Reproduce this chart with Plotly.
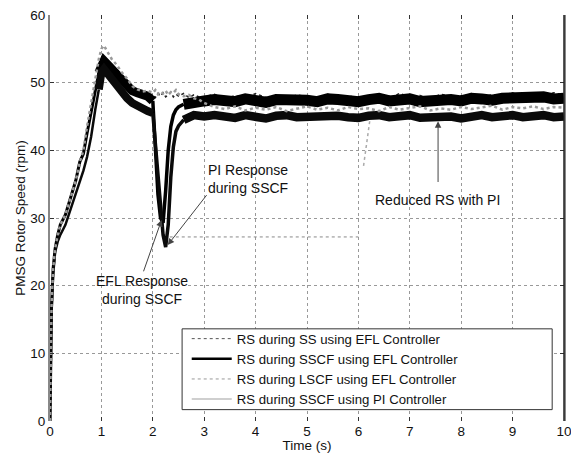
import plotly.graph_objects as go

# Time base (s): dense through start-up and the fault, 0.2 s afterwards
time_s = [0.0, 0.01, 0.03, 0.06, 0.1, 0.15, 0.2, 0.3, 0.4, 0.5, 0.58, 0.65, 0.72, 0.8,
          0.88, 0.95, 1.0, 1.05, 1.1, 1.2, 1.3, 1.4, 1.5, 1.6, 1.7, 1.8, 1.9, 2.0, 2.05,
          2.1, 2.15, 2.2, 2.25, 2.3, 2.35, 2.4, 2.45, 2.5, 2.6, 2.7, 2.8, 2.9,
          3.0, 3.2, 3.4, 3.6, 3.8, 4.0, 4.2, 4.4, 4.6, 4.8, 5.0, 5.2, 5.4, 5.6, 5.8,
          6.0, 6.2, 6.4, 6.6, 6.8, 7.0, 7.2, 7.4, 7.6, 7.8, 8.0, 8.2, 8.4, 8.6, 8.8,
          9.0, 9.2, 9.4, 9.6, 9.8, 10.0]

# Rotor speed (rpm)
rs_ss_efl = [0, 9, 17, 22.5, 25.5, 27.5, 29, 30.5, 33, 35.5, 38.3, 39.8, 43, 46, 49.5,
             52.3, 54, 53.5, 53, 52, 51, 49.8, 49, 48.6, 48.3, 48.2, 48.0, 48.3, 47.8,
             48.4, 48.0, 48.5, 47.9, 48.2, 48.6, 47.9, 48.3, 48.0, 48.4, 47.8, 48.2, 47.9,
             47.9, 48.3, 47.6, 48.1, 47.7, 48.4, 47.8, 48.0, 47.5, 48.2, 47.9, 47.6, 48.3,
             47.8, 48.1, 47.6, 48.0, 48.2, 47.7, 48.4, 47.9, 48.1, 47.6, 48.3, 48.0, 47.8,
             48.4, 47.9, 48.2, 48.0, 48.5, 47.9, 48.3, 48.1, 48.5, 48.2]
rs_sscf_efl = [0, 9, 17, 22.5, 25.5, 27.5, 29, 30.5, 33, 35.5, 38.3, 39.5, 42.5, 45.5, 49,
               51.5, 53, 53.2, 52.8, 52.0, 51.2, 50.5, 49.6, 48.8, 48.5, 48.3, 48.0, 47.3,
               40, 33.5, 30, 29.3, 34, 40, 43.5, 45.2, 46, 46.4, 46.8, 47.0, 47.3, 47.1,
               47.3, 47.5, 47.2, 47.2, 47.6, 47.4, 47.1, 47.5, 47.6, 47.3, 47.4, 47.2, 47.6,
               47.5, 47.3, 47.2, 47.5, 47.7, 47.3, 47.4, 47.6, 47.2, 47.3, 47.6, 47.5, 47.3,
               47.7, 47.6, 47.4, 47.7, 47.8, 47.5, 47.6, 47.9, 47.6, 47.7]
rs_lscf_efl = [0, 9, 17, 22.5, 25.5, 27.5, 29, 30.5, 33, 35.5, 38.3, 40, 43.5, 47, 50.5,
               53.5, 55, 55.5, 54.8, 53.5, 52.6, 51.5, 50.6, 49.5, 49.0, 48.7, 48.8, 48.5,
               48.9, 48.3, 48.7, 48.4, 48.8, 48.2, 48.6, 48.5, 48.9, 48.3, 48.0, 48.2, 47.7,
               47.5,
               47.0, 46.4, 46.1, 46.5, 45.9, 46.3, 46.0, 46.4, 45.8, 46.2, 46.5, 46.0, 46.3,
               45.9, 46.4, 46.1, 46.2, 45.8, 46.4, 46.0, 46.3, 46.5, 45.9, 46.2, 46.0, 46.4,
               46.1, 46.3, 46.6, 46.0, 46.4, 46.2, 46.5, 46.1, 46.4, 46.3]
rs_sscf_pi = [0, 8, 16, 21.5, 25, 26.5, 27.5, 29, 31.3, 33.5, 35.5, 37, 39, 42, 46, 49,
              51.5, 52, 51.5, 50.5, 49.5, 48.5, 47.7, 47.0, 46.5, 46.0, 45.8, 45.5, 41, 35,
              30.5, 27.5, 25.7, 29, 36, 40.5, 42.8, 43.6, 44.5, 45.0, 45.2, 45.1,
              45.0, 45.2, 44.9, 44.8, 45.2, 45.0, 44.7, 45.1, 45.2, 44.9, 45.0, 44.8, 45.2,
              45.1, 44.9, 44.8, 45.1, 45.2, 44.9, 45.0, 45.2, 44.8, 44.9, 45.1, 45.0, 44.7,
              45.1, 45.2, 44.9, 45.1, 45.2, 44.9, 45.0, 45.2, 44.9, 45.0]

legend_names = ["RS during SS using EFL Controller",
                "RS during SSCF using EFL Controller",
                "RS during LSCF using EFL Controller",
                "RS during SSCF using PI Controller"]

FONT = "Liberation Sans, Arial, Helvetica, sans-serif"

# ripple makes the measured traces look thicker in some intervals
band_widths = {
    "efl": [(0.0, 0.95, 3.0), (0.95, 2.0, 9.0), (2.0, 2.6, 3.5), (2.6, 10.0, 11.0)],
    "pi": [(0.0, 0.95, 2.5), (0.95, 2.0, 8.0), (2.0, 2.6, 3.5), (2.6, 10.0, 8.5)],
}

fig = go.Figure()


def add_band_trace(values, color, segments):
    for lo, hi, w in segments:
        xs = [t for t in time_s if lo <= t <= hi]
        ys = [v for t, v in zip(time_s, values) if lo <= t <= hi]
        fig.add_trace(go.Scatter(x=xs, y=ys, mode="lines", showlegend=False,
                                 line=dict(color=color, width=w), hoverinfo="skip"))


fig.add_trace(go.Scatter(x=time_s, y=rs_ss_efl, mode="lines", showlegend=False,
                         line=dict(color="#222222", width=1.5, dash="dot")))
add_band_trace(rs_sscf_efl, "#000000", band_widths["efl"])
add_band_trace(rs_sscf_pi, "#0a0a0a", band_widths["pi"])
fig.add_trace(go.Scatter(x=time_s, y=rs_lscf_efl, mode="lines", showlegend=False,
                         line=dict(color="#9a9a9a", width=2.5, dash="dot")))

# legend keys
legend_styles = [dict(color="#555555", width=1, dash="dot"),
                 dict(color="#000000", width=2.5),
                 dict(color="#999999", width=1, dash="dot"),
                 dict(color="#cfcfcf", width=2)]
for name, style in zip(legend_names, legend_styles):
    fig.add_trace(go.Scatter(x=[None], y=[None], mode="lines", name=name, line=style))

annot_font = dict(family=FONT, size=14, color="#111111")
fig.add_annotation(x=1.79, y=19.3, text="EFL Response<br>during SSCF", showarrow=False,
                   font=annot_font, xref="x", yref="y")
fig.add_annotation(x=3.85, y=35.7, text="PI Response<br>during SSCF", showarrow=False,
                   font=annot_font, xref="x", yref="y")
fig.add_annotation(x=7.53, y=32.6, text="Reduced RS with PI", showarrow=False,
                   font=annot_font, xref="x", yref="y")

arrows = [((1.81, 21.9), (2.17, 29.7)),
          ((3.07, 33.6), (2.29, 26.0)),
          ((7.55, 35.1), (7.55, 44.3))]
for (tx, ty), (hx, hy) in arrows:
    fig.add_annotation(x=hx, y=hy, ax=tx, ay=ty, xref="x", yref="y", axref="x", ayref="y",
                       text="", showarrow=True, arrowhead=2, arrowsize=1.3, arrowwidth=1,
                       arrowcolor="#444444")

# stray dotted guide lines
fig.add_shape(type="line", x0=2.33, y0=27.2, x1=6.0, y1=27.2, xref="x", yref="y",
              line=dict(color="#888888", width=1, dash="dot"))
fig.add_shape(type="line", x0=6.22, y0=44.3, x1=6.1, y1=37.7, xref="x", yref="y",
              line=dict(color="#aaaaaa", width=1.5, dash="dot"))
# right frame edge
fig.add_shape(type="line", x0=1, y0=0, x1=1, y1=1, xref="paper", yref="paper",
              line=dict(color="#222222", width=1.5))
# legend frame
fig.add_shape(type="rect", x0=0.257, x1=0.977, y0=0.028, y1=0.227, xref="paper",
              yref="paper", layer="above", fillcolor="white",
              line=dict(color="#333333", width=1))

fig.update_layout(
    width=571, height=458,
    margin=dict(l=50, r=7, t=15, b=37),
    paper_bgcolor="white", plot_bgcolor="white",
    font=dict(family=FONT, size=13, color="#111111"),
    showlegend=True,
    legend=dict(x=0.266, y=0.240, xanchor="left", yanchor="top",
                bgcolor="rgba(0,0,0,0)", borderwidth=0,
                font=dict(family=FONT, size=13.2, color="#111111"),
                tracegroupgap=0, itemwidth=40),
)
fig.update_xaxes(range=[0, 10], tickvals=list(range(0, 11)), ticks="inside", ticklen=4,
                 tickcolor="#333333", mirror="ticks", showline=False, zeroline=False,
                 showgrid=True, gridcolor="#999999", griddash="dot", gridwidth=1,
                 ticklabeloverflow="allow", tickfont=dict(size=13.5),
                 title=dict(text="Time (s)", standoff=0, font=dict(size=13.5)),
                 automargin=False)
fig.update_yaxes(range=[0, 60], tickvals=list(range(0, 61, 10)), ticks="inside", ticklen=4,
                 tickcolor="#333333", mirror="ticks", showline=True, linecolor="#888888",
                 linewidth=2, zeroline=False, tickfont=dict(size=13.5),
                 showgrid=True, gridcolor="#999999", griddash="dot", gridwidth=1,
                 title=dict(text="PMSG Rotor Speed (rpm)", standoff=2, font=dict(size=13.5)),
                 automargin=False)

fig.write_html("out.html")
